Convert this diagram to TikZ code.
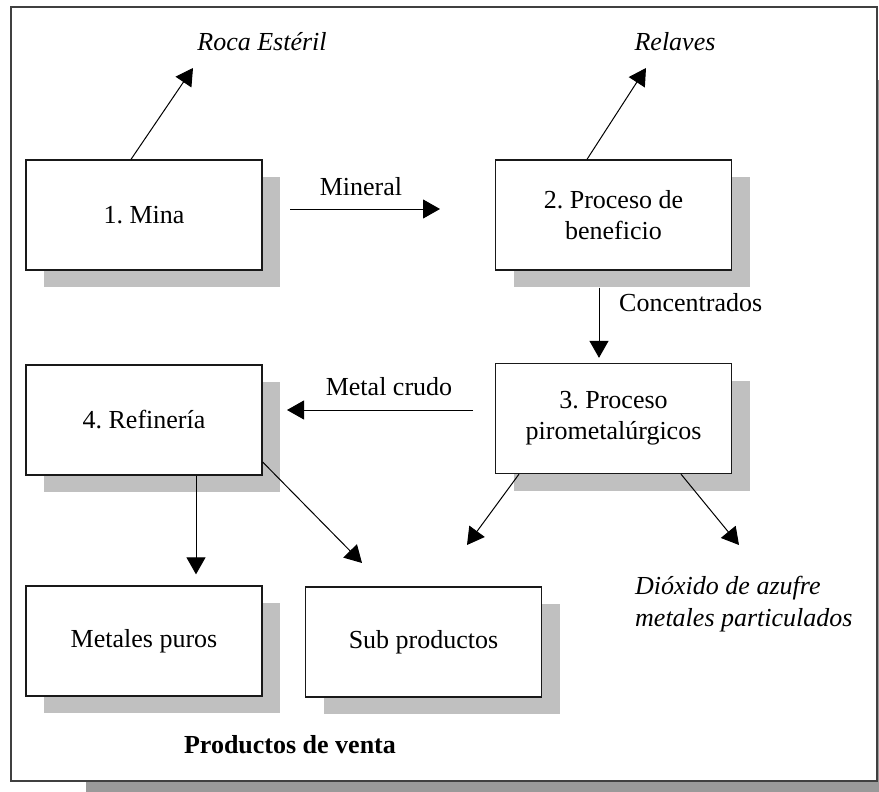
\documentclass[tikz,border=0pt]{standalone}
\usepackage{fontspec}
\setmainfont{Liberation Serif}
\usetikzlibrary{arrows.meta,shadows}
\definecolor{shadowgray}{HTML}{C0C0C0}
\definecolor{framegray}{HTML}{9A9A9A}
\definecolor{frameline}{HTML}{404040}
\frenchspacing
\begin{document}
\begin{tikzpicture}[x=1pt,y=-1pt,
  box/.style={draw=black!90,line width=1.3pt,fill=white,minimum width=236pt,
    minimum height=110pt,align=center,inner sep=0pt,
    font=\fontsize{26}{31}\selectfont\frenchspacing,
    general shadow={fill=shadowgray,shadow xshift=18pt,shadow yshift=-17pt}},
  flow/.style={line width=1pt,-{Triangle[length=17pt,width=19pt]}},
  lbl/.style={font=\fontsize{26}{31}\selectfont,inner sep=0pt},
  ilbl/.style={font=\fontsize{26}{32}\selectfont\itshape,inner sep=0pt},
]
\useasboundingbox (0,0) rectangle (879,792);
% outer frame with shadow
\fill[framegray] (86,80) rectangle (879,792);
\draw[frameline,line width=1.5pt,fill=white] (11,7) rectangle (877,781);

% boxes
\node[box] (m)  at (144,215)   {1. Mina};
\node[box] (b)  at (613.5,215) {2. Proceso de\\beneficio};
\node[box] (p)  at (613.5,418.5) {3. Proceso\\pirometalúrgicos};
\node[box] (r)  at (144,420)   {4. Refinería};
\node[box] (mp) at (144,641)   {Metales puros};
\node[box] (sp) at (423.5,642) {Sub productos};

% free ends
\coordinate (rocatip) at (193,68);
\coordinate (reltip) at (646,68);
\coordinate (minA) at (290,209);
\coordinate (minB) at (440,209);
\coordinate (mcA) at (473,410);
\coordinate (mcB) at (287,410);
\coordinate (subtip) at (362,563);
\coordinate (ltip) at (467,545);
\coordinate (rtip) at (739,545);

% connectors
\draw[flow] ([xshift=-13pt]m.north) -- (rocatip);
\draw[flow] ([xshift=-26.5pt]b.north) -- (reltip);
\draw[flow] (minA) -- (minB);
\draw[flow] ([xshift=-14.5pt,yshift=-17pt]b.south) -- ([xshift=-14.5pt,yshift=5pt]p.north);
\draw[flow] (mcA) -- (mcB);
\draw[flow] ([xshift=52pt]r.south) -- ([xshift=52pt,yshift=11pt]mp.north);
\draw[flow] ([yshift=-42pt]r.east) -- (subtip);
\draw[flow] ([xshift=-94.5pt]p.south) -- (ltip);
\draw[flow] ([xshift=67.5pt]p.south) -- (rtip);

% labels
\node[ilbl] (roca) at (262,42) {Roca Estéril};
\node[ilbl] (rel) at (675,42) {Relaves};
\node[lbl] (minl) at (361,187) {Mineral};
\node[lbl,anchor=west] (conc) at (619,303) {Concentrados};
\node[lbl] (mcl) at (389,387) {Metal crudo};
\node[ilbl,anchor=west,align=left] (diox) at (635,604) {Dióxido de azufre\\metales particulados};
\node[lbl,font=\fontsize{26}{31}\selectfont\bfseries] (venta) at (290,745) {Productos de venta};
\end{tikzpicture}
\end{document}
